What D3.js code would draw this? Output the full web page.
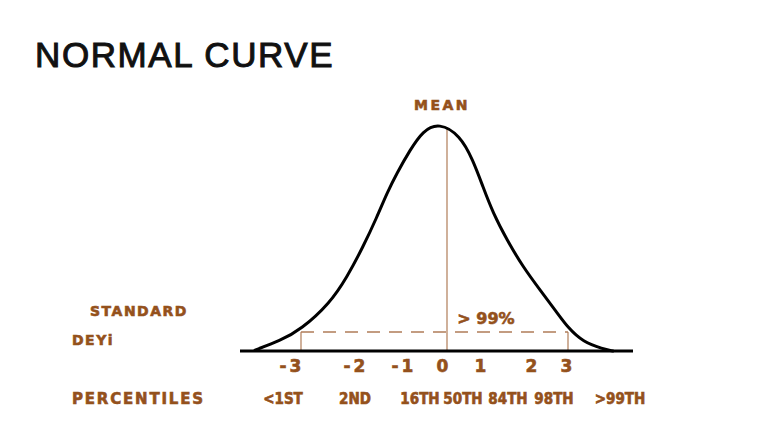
<!DOCTYPE html>
<html>
<head>
<meta charset="utf-8">
<script src="https://cdn.jsdelivr.net/npm/d3@7"></script>
<style>
  html, body { margin: 0; padding: 0; background: #fff; }
  svg { display: block; }
</style>
</head>
<body>
<svg id="chart" width="768" height="432"></svg>
<script>
// curve: position in SD-ish units, relative height
const curveX = [-4.8, -4.175, -3.65, -2.925, -2.5, -2.1, -1.75, -1.5, -1.25, -0.925, -0.6, -0.2,
  0.325, 0.65, 0.9, 1.15, 1.5, 1.9, 2.325, 2.75, 3.025, 3.4, 3.9, 4.15];
const curveY = [0.004, 0.045, 0.095, 0.212, 0.327, 0.46, 0.593, 0.699, 0.788, 0.889, 0.975, 1.01,
  0.955, 0.845, 0.726, 0.611, 0.491, 0.372, 0.27, 0.17, 0.103, 0.04, 0.009, 0.0];

// hand-placed labels along the baseline
const sdLabels = ["-3", "-2", "-1", "0", "1", "2", "3"];
const sdAt = [-3.875, -2.275, -1.075, -0.075, 0.875, 2.15, 3.025];
const pctLabels = ["<1ST", "2ND", "16TH", "50TH", "84TH", "98TH", ">99TH"];
const pctAt = [-4.1, -2.3, -0.675, 0.4, 1.525, 2.675, 4.325];

const bandEdges = [-3.65, 3.025]; // the -3 / +3 verticals
const bandLevel = 0.084;
const axisExtent = [-5.175, 4.65];

const svg = d3.select("#chart");
const brown = "#94511c";
const lineBrown = "#b07c58";
const hand = "'DejaVu Sans', sans-serif";
const handNarrow = "'DejaVu Sans Condensed', 'DejaVu Sans', sans-serif";

const x = d3.scaleLinear().domain([-5, 5]).range([247, 647]);
const y = d3.scaleLinear().domain([0, 1]).range([351, 125]);

// title
svg.append("text")
  .attr("x", 35)
  .attr("y", 67)
  .attr("fill", "#111")
  .attr("stroke", "#111")
  .attr("stroke-width", 1)
  .style("font-family", "'Liberation Sans', Arial, sans-serif")
  .style("font-size", "35px")
  .style("letter-spacing", "1.6px")
  .text("NORMAL CURVE");

// mean line
svg.append("line")
  .attr("x1", x(0)).attr("x2", x(0))
  .attr("y1", y(0.99)).attr("y2", y(0))
  .attr("stroke", lineBrown)
  .attr("stroke-width", 1.2);

// +-3 verticals and dashed band
svg.append("g")
  .selectAll("line")
  .data(bandEdges)
  .join("line")
  .attr("x1", d => x(d)).attr("x2", d => x(d))
  .attr("y1", y(bandLevel)).attr("y2", y(0))
  .attr("stroke", lineBrown)
  .attr("stroke-width", 1.2);

svg.append("line")
  .attr("x1", x(bandEdges[0])).attr("x2", x(bandEdges[1]))
  .attr("y1", y(bandLevel)).attr("y2", y(bandLevel))
  .attr("stroke", lineBrown)
  .attr("stroke-width", 1.5)
  .attr("stroke-dasharray", "13,9");

// baseline
svg.append("line")
  .attr("x1", x(axisExtent[0])).attr("x2", x(axisExtent[1]))
  .attr("y1", y(0)).attr("y2", y(0))
  .attr("stroke", "#000")
  .attr("stroke-width", 3);

// the curve
const line = d3.line()
  .x(d => x(d[0]))
  .y(d => y(d[1]))
  .curve(d3.curveBasis);

svg.append("path")
  .datum(d3.zip(curveX, curveY))
  .attr("d", line)
  .attr("fill", "none")
  .attr("stroke", "#000")
  .attr("stroke-width", 3)
  .attr("stroke-linecap", "round");

// hand lettering
function handText(txt, px, py, size, anchor) {
  return svg.append("text")
    .attr("x", px)
    .attr("y", py)
    .attr("text-anchor", anchor || "middle")
    .attr("fill", brown)
    .attr("stroke", brown)
    .attr("stroke-width", 0.6)
    .style("font-family", hand)
    .style("font-weight", "bold")
    .style("font-size", size + "px")
    .text(txt);
}

handText("MEAN", x(0) - 5, 110, 14).style("letter-spacing", "2.5px");
handText("> 99%", 486, 324, 16);
handText("STANDARD", 90, 316, 14, "start").style("letter-spacing", "1.5px");
handText("DEYi", 72, 345, 14, "start").style("letter-spacing", "1.5px");
handText("PERCENTILES", 72, 404, 15, "start").style("letter-spacing", "1.8px");

svg.append("g")
  .selectAll("text")
  .data(d3.zip(sdLabels, sdAt))
  .join("text")
  .attr("x", d => x(d[1]))
  .attr("y", 372)
  .attr("text-anchor", "middle")
  .attr("fill", brown)
  .attr("stroke", brown)
  .attr("stroke-width", 0.6)
  .style("font-family", hand)
  .style("font-weight", "bold")
  .style("font-size", "17px")
  .style("letter-spacing", "3px")
  .text(d => d[0]);

svg.append("g")
  .selectAll("text")
  .data(d3.zip(pctLabels, pctAt))
  .join("text")
  .attr("x", d => x(d[1]))
  .attr("y", 404)
  .attr("text-anchor", "middle")
  .attr("fill", brown)
  .attr("stroke", brown)
  .attr("stroke-width", 0.6)
  .style("font-family", handNarrow)
  .style("font-weight", "bold")
  .style("font-size", "15px")
  .text(d => d[0]);
</script>
</body>
</html>
